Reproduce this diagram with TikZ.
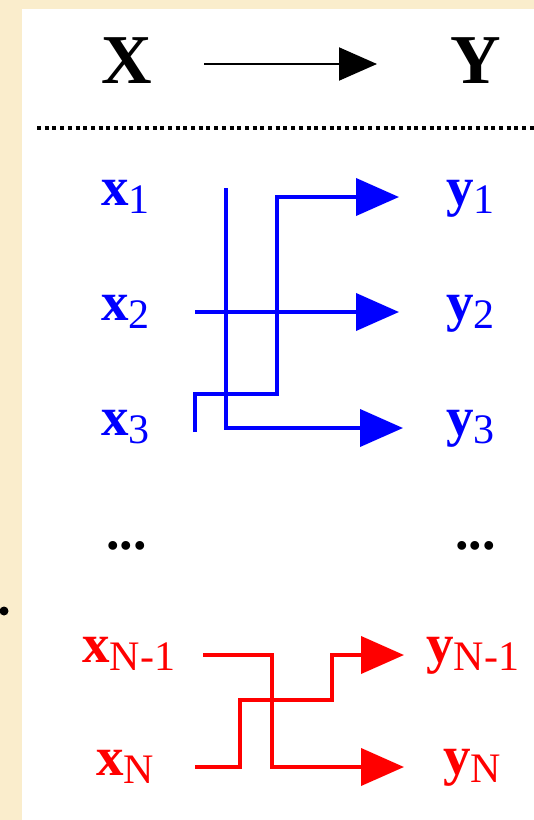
\documentclass[tikz,border=0pt]{standalone}
\usepackage{fontspec}
\setmainfont{Liberation Serif}
\usetikzlibrary{arrows.meta}
\definecolor{paper}{RGB}{250,237,204}
\definecolor{sigblue}{RGB}{0,0,255}
\definecolor{sigred}{RGB}{255,0,0}
% bold variable with a plain, lowered index
\newcommand{\varlab}[2]{{\fontsize{55}{55}\selectfont\bfseries #1}\raisebox{-8pt}{\fontsize{42}{42}\selectfont #2}}
\begin{document}
\begin{tikzpicture}[x=1pt,y=-1pt,
  lab/.style={inner sep=0pt, anchor=base west},
  head/.style={inner sep=0pt, anchor=base, font=\fontsize{70}{70}\selectfont\bfseries},
  wire/.style={line width=4pt},
  flow/.style={wire,-{Triangle[length=43pt,width=37pt]}}]
\useasboundingbox (0,0) rectangle (534,820);
% page and white panel
\fill[paper] (0,0) rectangle (534,820);
\fill[white] (22,9) rectangle (534,820);
\fill[black] (4,611) circle (4.5pt);

% heading: X -> Y
\node[head] (X) at (126.5,83) {X};
\node[head] (Y) at (475.5,83) {Y};
\coordinate (hs) at (204,64);
\coordinate (he) at (377,64);
\draw[line width=2pt,-{Triangle[length=38pt,width=33pt]}] (hs) -- (he);
\draw[line width=4pt, dash pattern=on 4pt off 3.7pt] (37,128) coordinate (d0) -- (534,128) coordinate (d1);

% blue group
\begin{scope}[color=sigblue]
\node[lab] (x1) at (101,205) {\varlab{x}{1}};
\node[lab] (x2) at (101,320) {\varlab{x}{2}};
\node[lab] (x3) at (101,435) {\varlab{x}{3}};
\node[lab] (y1) at (446,205) {\varlab{y}{1}};
\node[lab] (y2) at (446,320) {\varlab{y}{2}};
\node[lab] (y3) at (446,435) {\varlab{y}{3}};
\coordinate (a1) at (226,188);
\coordinate (a2) at (195,312);
\coordinate (a3) at (195,432);
\coordinate (b1) at (399,197);
\coordinate (b2) at (399,312);
\coordinate (b3) at (403,428);
\draw[flow] (a1) |- (b3);
\draw[flow] (a2) -- (b2);
\draw[flow] (a3) -- (195,394) -- (277,394) |- (b1);
\end{scope}

% ellipses
\node[lab, font=\fontsize{54}{54}\selectfont\bfseries] (dl) at (106,549) {...};
\node[lab, font=\fontsize{54}{54}\selectfont\bfseries] (dr) at (455,549) {...};

% red group
\begin{scope}[color=sigred]
\node[lab] (xm) at (82,662) {\varlab{x}{N-1}};
\node[lab] (xn) at (96,775) {\varlab{x}{N}};
\node[lab] (ym) at (426,662) {\varlab{y}{N-1}};
\node[lab] (yn) at (443,774) {\varlab{y}{N}};
\coordinate (c1) at (203,655);
\coordinate (c2) at (195,767);
\coordinate (e1) at (404,655);
\coordinate (e2) at (404,767);
\draw[flow] (c1) -- (272,655) |- (e2);
\draw[flow] (c2) -- (240,767) |- (332,700) |- (e1);
\end{scope}
\end{tikzpicture}
\end{document}
